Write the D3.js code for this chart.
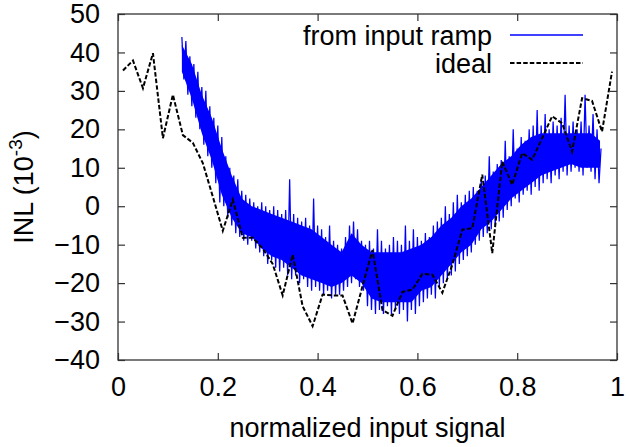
<!DOCTYPE html>
<html>
<head>
<meta charset="utf-8">
<script src="https://cdn.jsdelivr.net/npm/d3@7.9.0/dist/d3.min.js"></script>
<style>
  body { margin: 0; background: #fff; }
  svg { display: block; font-family: "Liberation Sans", Arial, sans-serif; }
</style>
</head>
<body>
<div id="chart"></div>
<script>
// measured INL from the input ramp, sampled every rampStep starting at rampStart
const rampStart = 0.128;
const rampStep = 0.004;
const rampValues = [
  44, 33, 43, 29, 39, 26, 37, 23, 35, 20,
  31, 16, 30, 13, 26, 10, 23, 6, 21, 1,
  18, 0, 13, -3, 10, -5, 8, -7, 7, -8,
  4, -9, 3, -10, 2, -9, 1, -11, 0, -12,
  1, -13, 0, -15, -1, -14, 0, -16, -1, -17,
  -2, -16, -1, -18, 7, -19, -2, -18, -3, -20,
  -4, -19, -3, -21, -5, -22, 2, -21, -5, -22,
  -6, -23, -8, -22, -5, -24, -9, -23, -10, -23,
  -11, -22, -8, -21, -5, -20, -4, -19, -6, -21,
  -9, -22, -10, -26, -9, -27, -11, -28, -6, -27,
  -9, -28, -11, -26, -10, -28, -8, -27, -9, -28,
  -10, -27, -5, -30, -9, -27, -6, -28, -8, -26,
  -9, -25, -7, -24, -8, -23, -5, -24, -4, -21,
  -3, -20, 0, -19, -2, -18, 1, -17, 3, -15,
  1, -14, 3, -13, 4, -12, 5, -10, 4, -9,
  7, -8, 8, -7, 13, -6, 9, -5, 11, -4,
  12, -3, 17, -1, 13, 0, 20, 2, 15, 1,
  18, 3, 17, 4, 20, 3, 21, 5, 25, 4,
  21, 6, 24, 7, 20, 6, 22, 8, 21, 7,
  23, 9, 29, 8, 21, 9, 22, 10, 20, 9,
  22, 8, 29, 10, 21, 9, 24, 7, 20, 6, 15
];

// dense core of the ramp band (where the trace fills solid), every 0.02
const coreX = [
  0.128, 0.148, 0.168, 0.188, 0.208, 0.228, 0.248, 0.268, 0.288, 0.308,
  0.328, 0.348, 0.368, 0.388, 0.408, 0.428, 0.448, 0.468, 0.488, 0.508,
  0.528, 0.548, 0.568, 0.588, 0.608, 0.628, 0.648, 0.668, 0.688, 0.708,
  0.728, 0.748, 0.768, 0.788, 0.808, 0.828, 0.848, 0.868, 0.888, 0.908,
  0.928, 0.948, 0.966
];
const coreLow = [
  35, 28, 19, 12, 3, -3, -7, -8, -11, -13,
  -14, -16, -18, -19, -20, -21, -20, -18, -20, -24,
  -25, -25, -25, -25, -22, -21, -18, -15, -12, -10,
  -6, -4, -1, 2, 4, 6, 8, 9, 10, 11,
  10, 10, 10
];
const coreHigh = [
  42, 37, 29, 23, 15, 8, 2, 0, -1, -2,
  -3, -4, -5, -6, -8, -10, -12, -7, -10, -12,
  -12, -12, -12, -11, -10, -8, -5, -3, 0, 2,
  5, 8, 11, 13, 16, 18, 19, 19, 19, 19,
  19, 19, 17
];

// ideal INL, one value every 0.02 from 0.01 to 0.99
const idealX = d3.range(50).map(i => +(0.01 + 0.02 * i).toFixed(2));
const idealValues = [
  35.3, 37.9, 30.7, 39.8, 17.7, 29.0, 18.5, 16.5, 11.2, 2.5,
  -6.4, 1.7, -8.2, -8.2, -11, -15, -23.2, -12.6, -26, -31.2,
  -23, -23.2, -23.2, -30.5, -20.8, -11.4, -27, -28.5, -22.3, -21.7,
  -17.6, -17.8, -22.5, -15.2, -6.1, -5.7, 8.2, -12.2, 11.6, 5.6,
  13.8, 12.1, 17.7, 23.4, 21.6, 14.2, 28.1, 27.4, 19.4, 35.0
];

const xTicks = [0, 0.2, 0.4, 0.6, 0.8, 1];
const yTicks = [-40, -30, -20, -10, 0, 10, 20, 30, 40, 50];
const seriesNames = ['from input ramp', 'ideal'];

const width = 630;
const height = 447;
const margin = { top: 14, right: 13, bottom: 87, left: 118 };

const svg = d3.select('#chart')
  .append('svg')
  .attr('width', width)
  .attr('height', height);

const x = d3.scaleLinear().domain([0, 1]).range([margin.left, width - margin.right]);
const y = d3.scaleLinear().domain([-40, 50]).range([height - margin.bottom, margin.top]);

const ramp = rampValues.map((v, i) => ({ x: rampStart + rampStep * i, y: v }));
const core = coreX.map((cx, i) => ({ x: cx, lo: coreLow[i], hi: coreHigh[i] }));
const ideal = idealValues.map((v, i) => ({ x: idealX[i], y: v }));

const line = d3.line().x(d => x(d.x)).y(d => y(d.y));
const area = d3.area().x(d => x(d.x)).y0(d => y(d.lo)).y1(d => y(d.hi));

const fontSize = 27;
const axisColor = '#333';
const blue = '#0000ff';
const dash = '4.5,2.1';

// Axes with inward ticks
svg.append('g')
  .attr('transform', `translate(0,${y(-40)})`)
  .call(d3.axisBottom(x).tickValues(xTicks).tickFormat(d3.format('')).tickSize(-7).tickPadding(17));
svg.append('g')
  .attr('transform', `translate(${x(0)},0)`)
  .call(d3.axisLeft(y).tickValues(yTicks).tickSize(-7).tickPadding(18));
svg.append('g')
  .attr('transform', `translate(0,${y(50)})`)
  .call(d3.axisTop(x).tickValues(xTicks).tickFormat('').tickSize(-7));
svg.append('g')
  .attr('transform', `translate(${x(1)},0)`)
  .call(d3.axisRight(y).tickValues(yTicks).tickFormat('').tickSize(-7));

svg.selectAll('.domain').remove();
svg.selectAll('.tick line').attr('stroke', axisColor).attr('stroke-width', 1.2);
svg.selectAll('.tick text')
  .attr('fill', '#000')
  .style('font-size', fontSize + 'px')
  .style('font-family', '"Liberation Sans", Arial, sans-serif');

// Data
svg.append('path')
  .datum(core)
  .attr('fill', blue)
  .attr('d', area);

svg.append('path')
  .datum(ramp)
  .attr('fill', 'none')
  .attr('stroke', blue)
  .attr('stroke-width', 1.25)
  .attr('d', line);

svg.append('path')
  .datum(ideal)
  .attr('fill', 'none')
  .attr('stroke', '#000')
  .attr('stroke-width', 2)
  .attr('stroke-dasharray', dash)
  .attr('d', line);

// Frame
svg.append('rect')
  .attr('x', x(0))
  .attr('y', y(50))
  .attr('width', x(1) - x(0))
  .attr('height', y(-40) - y(50))
  .attr('fill', 'none')
  .attr('stroke', axisColor)
  .attr('stroke-width', 1.3);

// Legend
const legend = svg.append('g').style('font-size', fontSize + 'px');
const legendRows = [
  { name: seriesNames[0], baseline: 45, lineY: 35, color: blue, dash: null, w: 1.6 },
  { name: seriesNames[1], baseline: 72.5, lineY: 63, color: '#000', dash: dash, w: 2 }
];
legendRows.forEach(r => {
  legend.append('text')
    .attr('x', 492)
    .attr('y', r.baseline)
    .attr('text-anchor', 'end')
    .text(r.name);
  legend.append('line')
    .attr('x1', 510).attr('x2', 583)
    .attr('y1', r.lineY).attr('y2', r.lineY)
    .attr('stroke', r.color)
    .attr('stroke-width', r.w)
    .attr('stroke-dasharray', r.dash);
});

// Axis titles
svg.append('text')
  .attr('x', (x(0) + x(1)) / 2)
  .attr('y', 437)
  .attr('text-anchor', 'middle')
  .style('font-size', fontSize + 'px')
  .text('normalized input signal');

const yTitle = svg.append('text')
  .attr('transform', `translate(33,${(y(50) + y(-40)) / 2}) rotate(-90)`)
  .attr('text-anchor', 'middle')
  .style('font-size', fontSize + 'px');
yTitle.append('tspan').text('INL (10');
yTitle.append('tspan').attr('dy', -11).style('font-size', '19px').text('-3');
yTitle.append('tspan').attr('dy', 11).text(')');
</script>
</body>
</html>
